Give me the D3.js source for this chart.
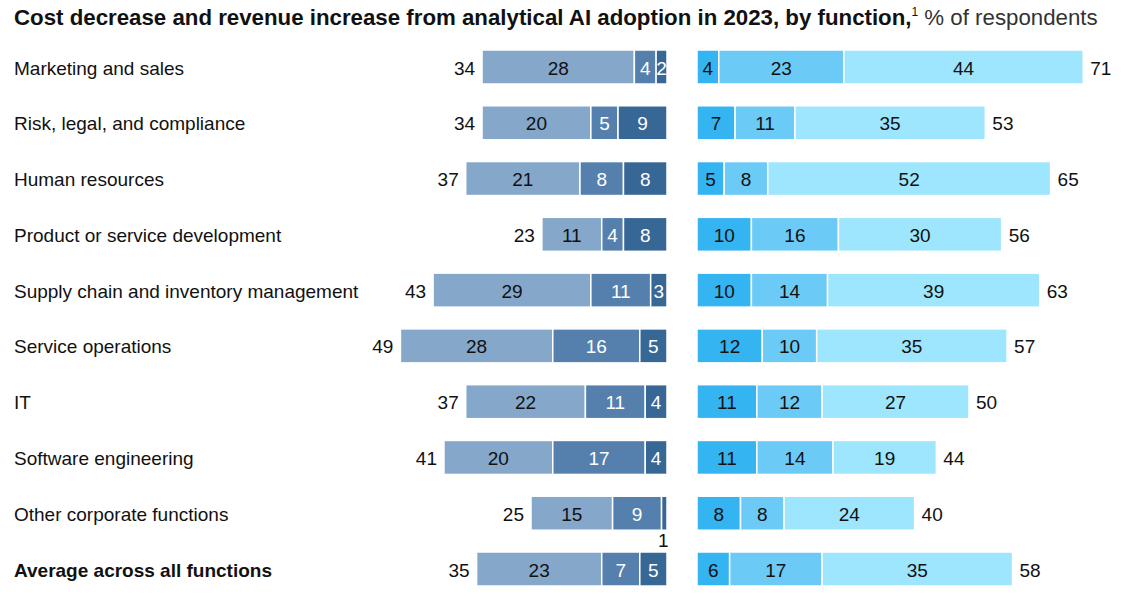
<!DOCTYPE html>
<html><head><meta charset="utf-8">
<script src="https://cdn.jsdelivr.net/npm/d3@7"></script>
<style>
html,body{margin:0;padding:0;background:#fff;}
svg{display:block;font-family:"Liberation Sans",Arial,sans-serif;}
</style></head>
<body>
<svg id="chart" width="1146" height="606"></svg>
<script>
const categories = ["Marketing and sales","Risk, legal, and compliance","Human resources","Product or service development","Supply chain and inventory management","Service operations","IT","Software engineering","Other corporate functions","Average across all functions"];
// Cost decrease segments (left side, drawn from outer to inner)
const costA = [28,20,21,11,29,28,22,20,15,23];
const costB = [4,5,8,4,11,16,11,17,9,7];
const costC = [2,9,8,8,3,5,4,4,1,5];
const costTotal = [34,34,37,23,43,49,37,41,25,35];
// Revenue increase segments (right side, from inner to outer)
const revA = [4,7,5,10,10,12,11,11,8,6];
const revB = [23,11,8,16,14,10,12,14,8,17];
const revC = [44,35,52,30,39,35,27,19,24,35];
const revTotal = [71,53,65,56,63,57,50,44,40,58];

const leftColors = ["#84a7ca","#5580ad","#376795"];
const leftText = ["#111","#fff","#fff"];
const rightColors = ["#35b4f2","#6ccaf6","#9de6fd"];

const svg = d3.select("#chart");
const x = d3.scaleLinear().domain([0,100]).range([0,544]);
const y = d3.scalePoint().domain(categories).range([67,569]);
const barH = 34;
const leftEdge = 667, rightEdge = 697;
const fs = 19;

// Title
const title = svg.append("text").attr("x",14).attr("y",25).attr("font-size",22).attr("fill","#111");
title.append("tspan").attr("font-weight","bold").text("Cost decrease and revenue increase from analytical AI adoption in 2023, by function,");
title.append("tspan").attr("font-size",12).attr("dy",-9).text("1");
title.append("tspan").attr("dy",9).attr("fill","#333").text(" % of respondents");
const tw = title.node().getComputedTextLength();
title.attr("font-size", 22 * 1084 / tw);

// Row labels
svg.append("g").selectAll("text").data(categories).join("text")
  .attr("x",14).attr("y",d=>y(d)+1).attr("dominant-baseline","central")
  .attr("font-size",fs).attr("fill","#111")
  .attr("font-weight",(d,i)=>i===categories.length-1?"bold":"normal")
  .text(d=>d);

const costSeries = [costA,costB,costC];
const revSeries = [revA,revB,revC];

categories.forEach((cat,i)=>{
  const cy = y(cat);
  const g = svg.append("g");
  let start = leftEdge - x(costTotal[i]);
  costSeries.forEach((s,k)=>{
    const w = x(s[i]);
    g.append("rect").attr("x",start).attr("y",cy-barH/2).attr("width",w).attr("height",barH)
      .attr("fill",leftColors[k]).attr("stroke","#fff").attr("stroke-width",1.5);
    if (s[i] >= 2) {
      g.append("text").attr("x",start+w/2).attr("y",cy+1).attr("text-anchor","middle")
        .attr("dominant-baseline","central").attr("font-size",fs).attr("fill",leftText[k]).text(s[i]);
    } else {
      g.append("text").attr("x",start+w/2-1).attr("y",cy+barH/2+10).attr("text-anchor","middle")
        .attr("dominant-baseline","central").attr("font-size",fs).attr("fill","#111").text(s[i]);
    }
    start += w;
  });
  g.append("text").attr("x",leftEdge - x(costTotal[i]) - 7).attr("y",cy+1).attr("text-anchor","end")
    .attr("dominant-baseline","central").attr("font-size",fs).attr("fill","#111").text(costTotal[i]);
  let rs = rightEdge;
  revSeries.forEach((s,k)=>{
    const w = x(s[i]);
    g.append("rect").attr("x",rs).attr("y",cy-barH/2).attr("width",w).attr("height",barH)
      .attr("fill",rightColors[k]).attr("stroke","#fff").attr("stroke-width",1.5);
    g.append("text").attr("x",rs+w/2).attr("y",cy+1).attr("text-anchor","middle")
      .attr("dominant-baseline","central").attr("font-size",fs).attr("fill","#111").text(s[i]);
    rs += w;
  });
  g.append("text").attr("x",rightEdge + x(revTotal[i]) + 7).attr("y",cy+1)
    .attr("dominant-baseline","central").attr("font-size",fs).attr("fill","#111").text(revTotal[i]);
});
</script>
</body></html>
